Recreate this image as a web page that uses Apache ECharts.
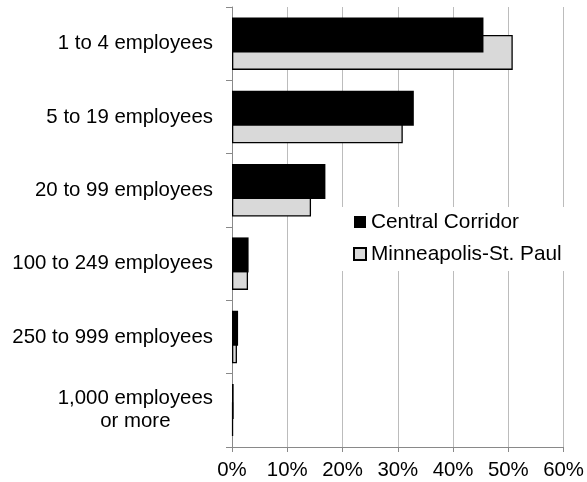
<!DOCTYPE html>
<html>
<head>
<meta charset="utf-8">
<script src="https://cdn.jsdelivr.net/npm/echarts@6/dist/echarts.min.js"></script>
<style>
html,body{margin:0;padding:0;background:#fff;}
#c{width:587px;height:482px;}
</style>
</head>
<body>
<div id="c"></div>
<script>
var categories = ['1 to 4 employees', '5 to 19 employees', '20 to 99 employees', '100 to 249 employees', '250 to 999 employees', '1,000 employees\nor more'];
var centralCorridor = [45.5, 32.9, 16.9, 3.0, 1.1, 0.3];
var minneapolisStPaul = [50.8, 30.9, 14.3, 2.9, 0.9, 0.2];
var seriesNames = ['Central Corridor', 'Minneapolis-St. Paul'];
var xTicks = [0, 10, 20, 30, 40, 50, 60];

var FONT = '"Liberation Sans", Arial, sans-serif';
var AX = 20.4;
var chart = echarts.init(document.getElementById('c'), null, {renderer: 'canvas'});
chart.setOption({
  animation: false,
  backgroundColor: '#ffffff',
  grid: {left: 232, right: 21, top: 7, bottom: 35, containLabel: false},
  legend: {
    orient: 'vertical',
    left: 342,
    top: 207,
    padding: [4, 12, 6, 11],
    backgroundColor: '#ffffff',
    itemWidth: 12,
    itemHeight: 12,
    itemGap: 10,
    itemTextGap: 4,
    icon: 'rect',
    textStyle: {fontFamily: FONT, fontSize: 20.8, color: '#000', lineHeight: 22},
    data: seriesNames
  },
  xAxis: {
    type: 'value',
    min: xTicks[0],
    max: xTicks[xTicks.length - 1],
    interval: 10,
    axisLine: {show: true, lineStyle: {color: '#898989', width: 1}},
    axisTick: {show: true, length: 5, lineStyle: {color: '#898989'}},
    splitLine: {show: true, lineStyle: {color: '#bcbcbc', width: 1}},
    axisLabel: {
      fontFamily: FONT, fontSize: AX, color: '#000', margin: 13,
      formatter: function (v) { return v + '%'; }
    }
  },
  yAxis: {
    type: 'category',
    inverse: true,
    data: categories,
    axisLine: {show: true, lineStyle: {color: '#898989', width: 1}},
    axisTick: {show: true, length: 6, lineStyle: {color: '#898989'}},
    splitLine: {show: false},
    axisLabel: {
      fontFamily: FONT, fontSize: AX, color: '#000', margin: 19, lineHeight: 23,
      formatter: function (v) {
        if (v.indexOf('\n') >= 0) {
          return v.split('\n').map(function (s) { return '{c|' + s + '}'; }).join('\n');
        }
        return v;
      },
      rich: {c: {align: 'center', fontFamily: FONT, fontSize: AX, color: '#000', lineHeight: 23}}
    }
  },
  series: [
    {
      name: seriesNames[0],
      type: 'bar',
      data: centralCorridor,
      barWidth: 35,
      barGap: '-50%',
      z: 3,
      itemStyle: {color: '#000000'}
    },
    {
      name: seriesNames[1],
      type: 'bar',
      data: minneapolisStPaul,
      barWidth: 35,
      barGap: '-50%',
      z: 2,
      itemStyle: {color: '#d9d9d9', borderColor: '#000000', borderWidth: 1.3}
    }
  ]
});
</script>
</body>
</html>
